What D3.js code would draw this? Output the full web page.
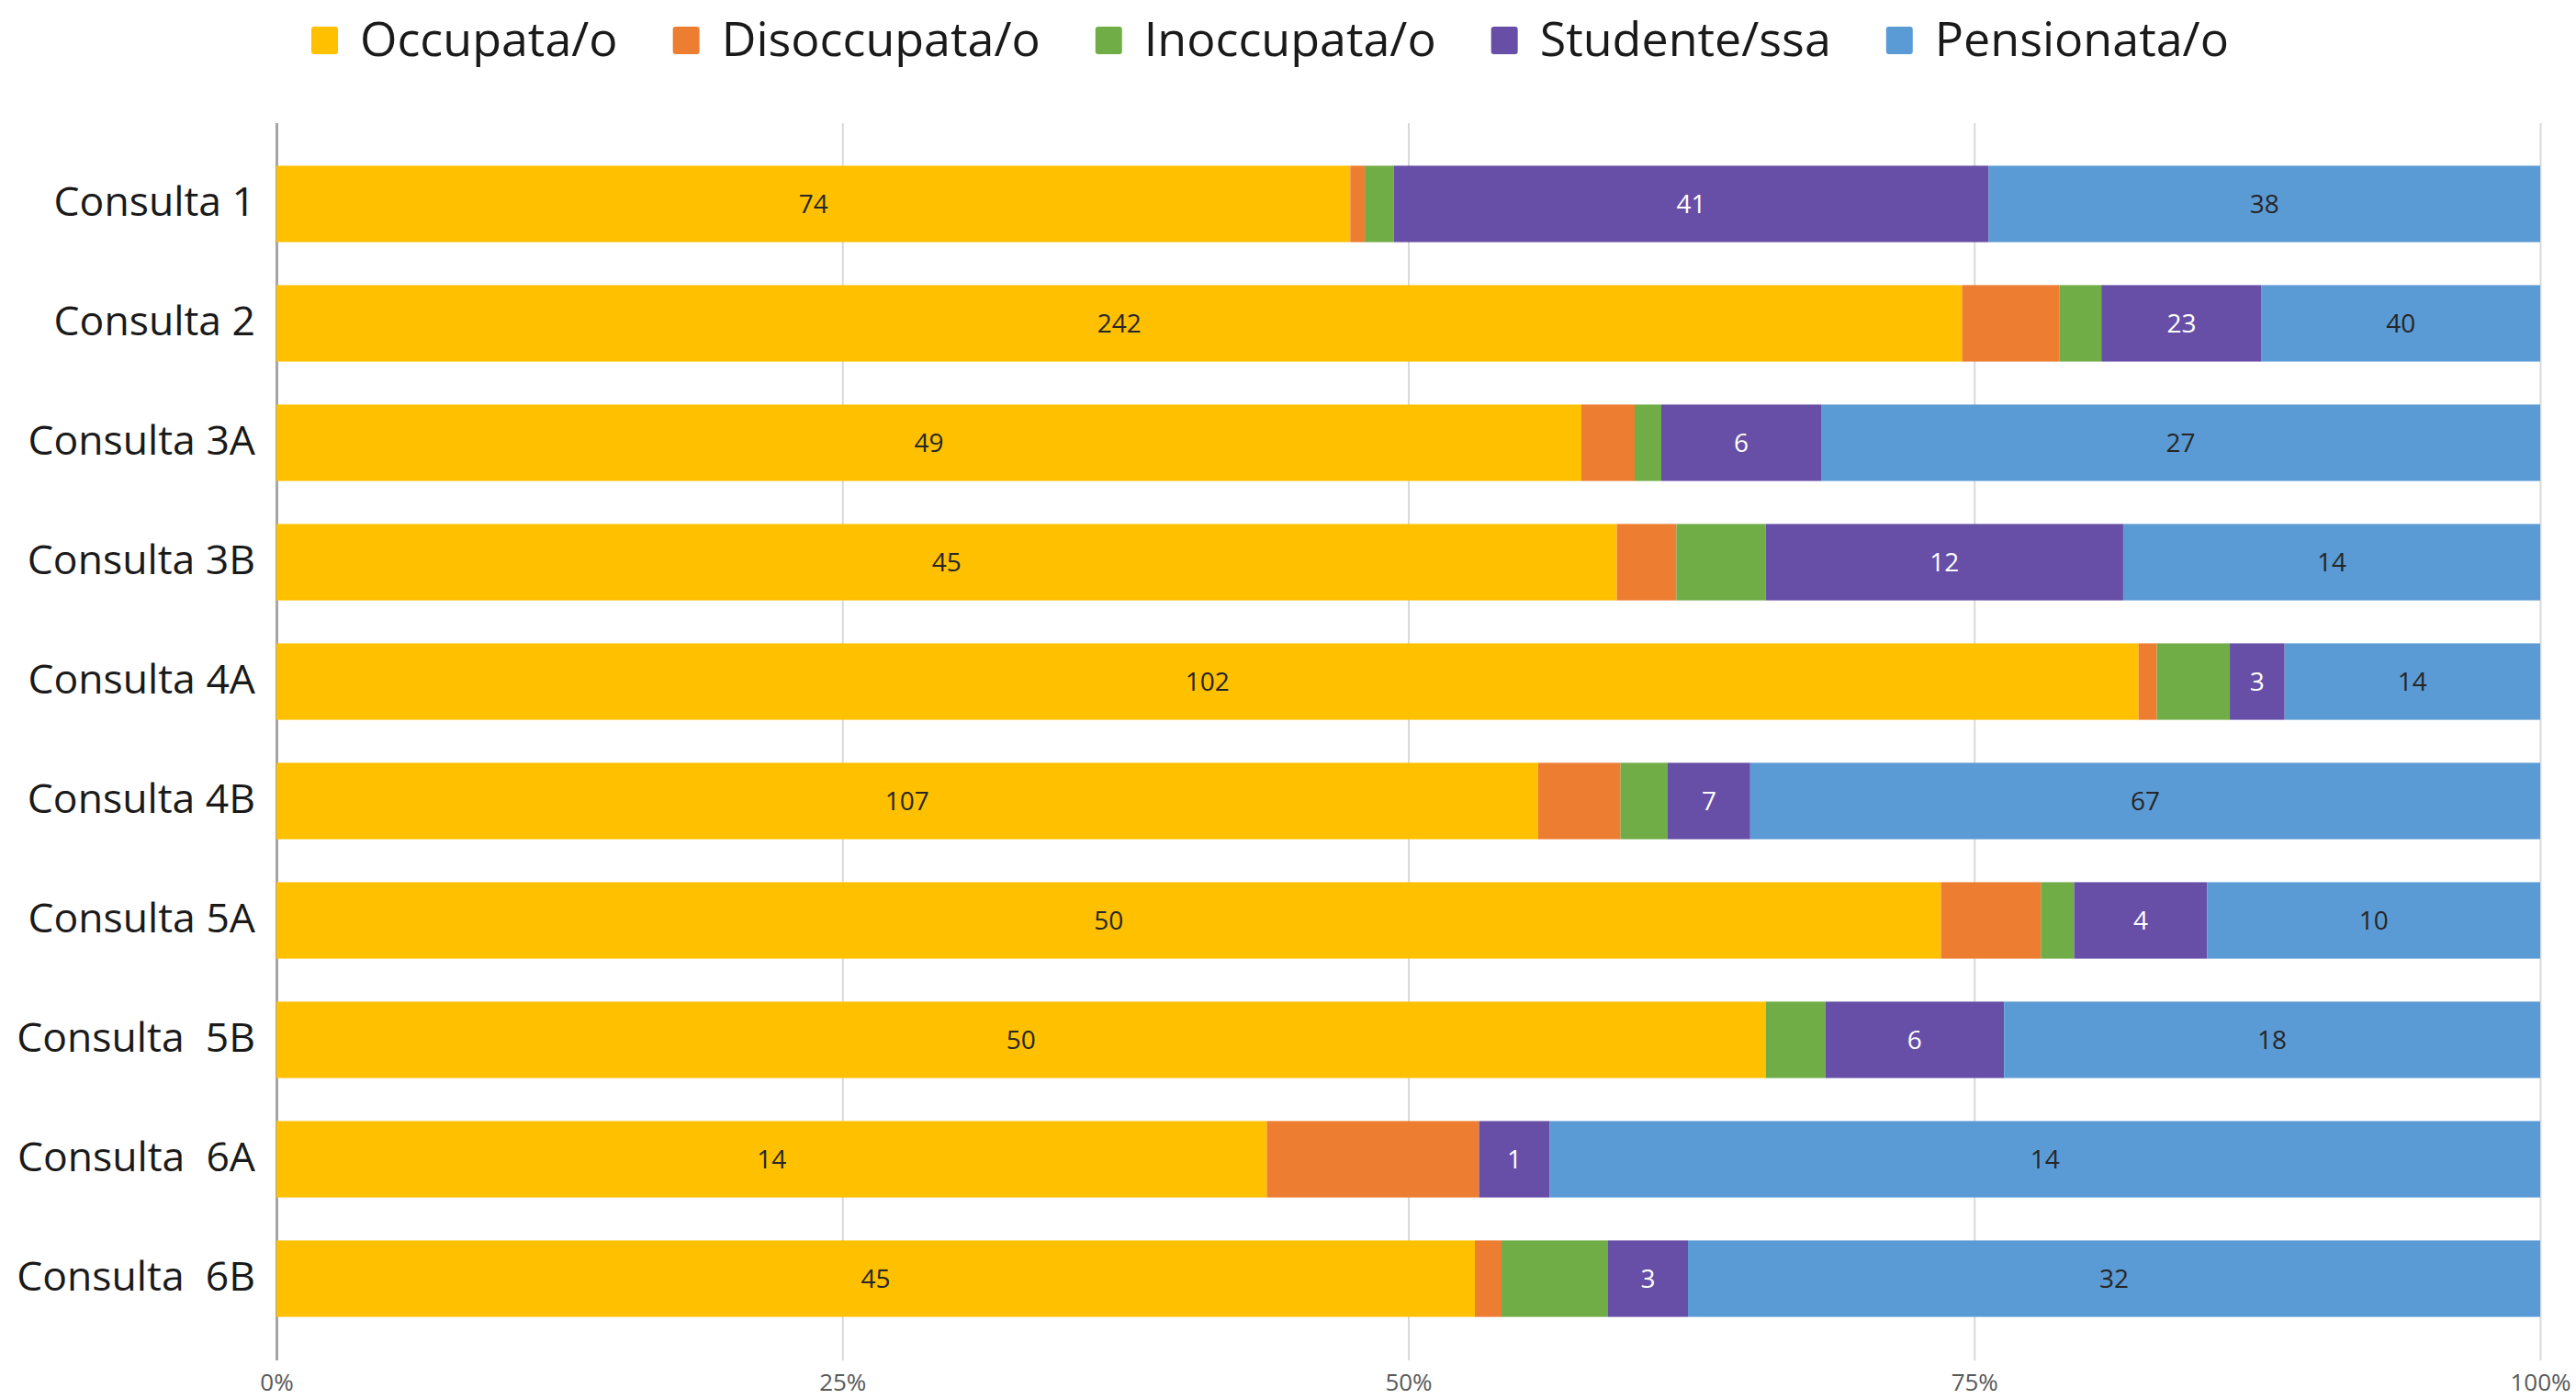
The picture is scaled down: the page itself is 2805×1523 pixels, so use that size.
<!DOCTYPE html>
<html>
<head>
<meta charset="utf-8">
<script src="https://cdn.jsdelivr.net/npm/d3@7"></script>
<style>
    body { margin: 0; background: #fff; }
    text { font-family: "Open Sans", sans-serif; }
</style>
</head>
<body>
<script>
const categories = ["Consulta 1", "Consulta 2", "Consulta 3A", "Consulta 3B", "Consulta 4A",
    "Consulta 4B", "Consulta 5A", "Consulta  5B", "Consulta  6A", "Consulta  6B"];
const seriesNames = ["Occupata/o", "Disoccupata/o", "Inoccupata/o", "Studente/ssa", "Pensionata/o"];
const occupata = [74, 242, 49, 45, 102, 107, 50, 50, 14, 45];
const disoccupata = [1, 14, 2, 2, 1, 7, 3, 0, 3, 1];
const inoccupata = [2, 6, 1, 3, 4, 4, 1, 2, 0, 4];
const studente = [41, 23, 6, 12, 3, 7, 4, 6, 1, 3];
const pensionata = [38, 40, 27, 14, 14, 67, 10, 18, 14, 32];
const tickValues = [0, 0.25, 0.5, 0.75, 1];
const labelledSeries = ["Occupata/o", "Studente/ssa", "Pensionata/o"];

document.addEventListener("DOMContentLoaded", () => {
    const width = 2805;
    const height = 1523;
    const colors = ["#FFC000", "#ED7D31", "#70AD47", "#674EA7", "#5B9BD5"];
    const labelColors = ["#262626", "#262626", "#262626", "#ffffff", "#262626"];
    const values = [occupata, disoccupata, inoccupata, studente, pensionata];

    // rows for d3.stack
    const rows = categories.map((c, i) => {
        const row = { category: c };
        seriesNames.forEach((s, j) => row[s] = values[j][i]);
        return row;
    });

    const stacked = d3.stack()
        .keys(seriesNames)
        .offset(d3.stackOffsetExpand)(rows);

    const plotTop = 134;
    const plotBottom = 1481;

    const xScale = d3.scaleLinear()
        .domain([0, 1])
        .range([301, 2766]);

    const yScale = d3.scaleBand()
        .domain(categories)
        .range([157, 1457])
        .paddingInner(0.36)
        .paddingOuter(0.18);

    const colorScale = d3.scaleOrdinal().domain(seriesNames).range(colors);
    const labelColor = d3.scaleOrdinal().domain(seriesNames).range(labelColors);

    const svg = d3.select("body")
        .append("svg")
        .attr("width", width)
        .attr("height", height);

    // grid + bottom tick labels
    const xAxis = d3.axisBottom(xScale)
        .tickValues(tickValues)
        .tickSize(-(plotBottom - plotTop))
        .tickPadding(15)
        .tickFormat(d3.format(".0%"));

    const gx = svg.append("g")
        .attr("transform", `translate(0, ${plotBottom})`)
        .call(xAxis);
    gx.select(".domain").remove();
    gx.selectAll(".tick line")
        .attr("stroke", d => d === 0 ? "#a6a6a6" : "#d9d9d9")
        .attr("stroke-width", d => d === 0 ? 3 : 2);
    gx.selectAll(".tick text")
        .attr("fill", "#595959")
        .style("font-size", "26px");

    // bars
    const layer = svg.append("g")
        .selectAll("g")
        .data(stacked)
        .join("g")
        .attr("fill", d => colorScale(d.key));

    layer.selectAll("rect")
        .data(d => d)
        .join("rect")
        .attr("x", d => xScale(d[0]))
        .attr("y", d => yScale(d.data.category))
        .attr("width", d => xScale(d[1]) - xScale(d[0]))
        .attr("height", yScale.bandwidth());

    // value labels
    svg.append("g")
        .selectAll("g")
        .data(stacked.filter(s => labelledSeries.includes(s.key)))
        .join("g")
        .attr("fill", d => labelColor(d.key))
        .selectAll("text")
        .data(d => d.map(v => ({ v, key: d.key })))
        .join("text")
        .attr("x", d => xScale((d.v[0] + d.v[1]) / 2))
        .attr("y", d => yScale(d.v.data.category) + yScale.bandwidth() / 2)
        .attr("dy", "0.36em")
        .attr("text-anchor", "middle")
        .style("font-size", "28px")
        .text(d => d.v.data[d.key]);

    // category axis
    const gy = svg.append("g")
        .attr("transform", `translate(${xScale(0)}, 0)`)
        .call(d3.axisLeft(yScale).tickSize(0).tickPadding(23));
    gy.select(".domain").remove();
    gy.selectAll(".tick text")
        .attr("fill", "#1a1a1a")
        .attr("dy", "0.3em")
        .style("font-size", "44.5px")
        .style("white-space", "pre");

    // legend
    const legend = svg.append("g");
    let lx = 339;
    seriesNames.forEach(name => {
        const item = legend.append("g").attr("transform", `translate(${lx}, 0)`);
        item.append("rect")
            .attr("x", 0)
            .attr("y", 29)
            .attr("width", 29)
            .attr("height", 30)
            .attr("rx", 3)
            .attr("fill", colorScale(name));
        const t = item.append("text")
            .attr("x", 53)
            .attr("y", 61)
            .attr("fill", "#1a1a1a")
            .style("font-size", "52px")
            .text(name);
        lx += 53 + t.node().getComputedTextLength() + 60;
    });
});
</script>
</body>
</html>
